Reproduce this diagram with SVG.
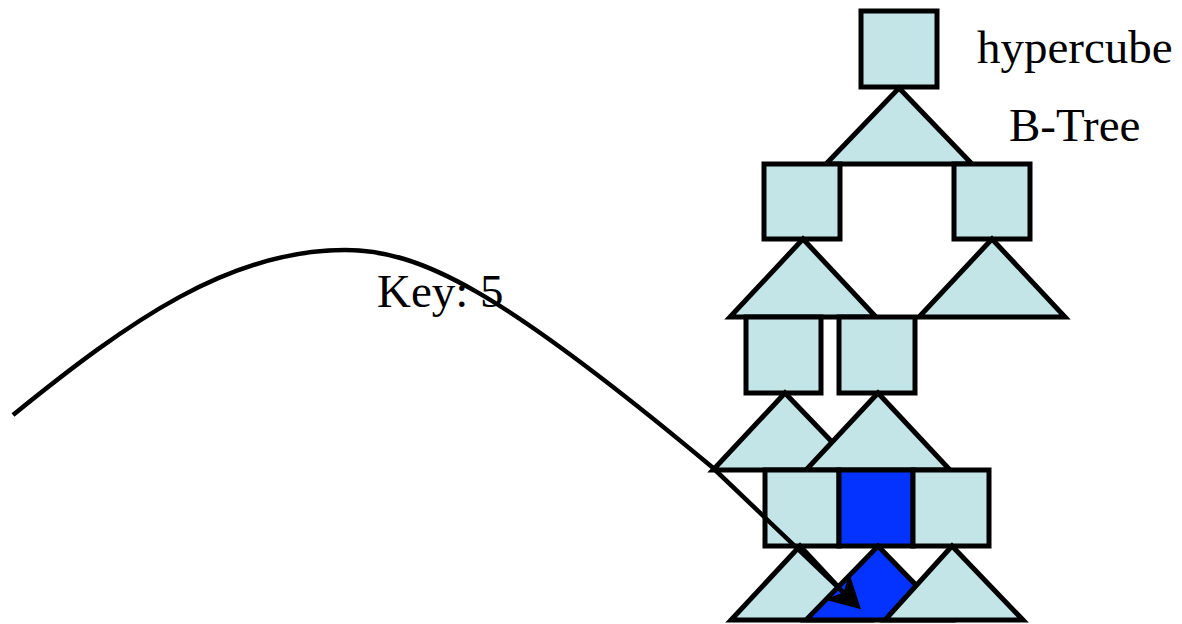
<svg xmlns="http://www.w3.org/2000/svg" width="1182" height="624" viewBox="0 0 1182 624">
  <style>
    .cell { fill: #C4E5E8; stroke: #000; stroke-width: 5; stroke-linejoin: miter; }
    .hit { fill: #0433FF; }
    .label { font-family: "Liberation Serif", "Times New Roman", serif; font-size: 47px; fill: #000; }
    .route { fill: none; stroke: #000; stroke-width: 4.5; stroke-linejoin: round; }
  </style>
  <defs>
    <marker id="head" markerUnits="userSpaceOnUse" orient="auto" refX="0" refY="0"
            markerWidth="60" markerHeight="60" viewBox="-30 -30 60 60" overflow="visible">
      <path d="M22,0 L-11,-18 L-2,0 L-11,18 Z" fill="#000"/>
    </marker>
  </defs>

  <rect width="1182" height="624" fill="#fff"/>

  <!-- level 0: hypercube root -->
  <g id="root">
    <rect class="cell" x="861" y="11" width="76" height="76"/>
    <polygon class="cell" points="899,88 972,164 826,164"/>
  </g>

  <!-- level 1 -->
  <g id="l1-left">
    <rect class="cell" x="764" y="164" width="76" height="75"/>
    <polygon class="cell" points="803,239 876,317 730,317"/>
  </g>
  <g id="l1-right">
    <rect class="cell" x="954" y="164" width="76" height="75"/>
    <polygon class="cell" points="992,239 1065,317 919,317"/>
  </g>

  <!-- level 2 -->
  <g id="l2-left">
    <rect class="cell" x="746" y="317" width="75" height="76"/>
    <polygon class="cell" points="785,393 859,470 713,470"/>
  </g>
  <g id="l2-right">
    <rect class="cell" x="839" y="317" width="76" height="76"/>
    <polygon class="cell" points="878,393 950,470 806,470"/>
  </g>

  <!-- level 3 -->
  <g id="l3-left">
    <rect class="cell" x="765" y="470" width="74" height="76"/>
    <polygon class="cell" points="800,546 869,620 731,620"/>
  </g>
  <g id="l3-mid">
    <rect class="cell hit" x="839" y="470" width="74" height="76"/>
    <polygon class="cell hit" points="878,546 950,620 806,620"/>
  </g>
  <g id="l3-right">
    <rect class="cell" x="913" y="470" width="76" height="76"/>
    <polygon class="cell" points="952,546 1023,620 885,620"/>
  </g>

  <!-- labels -->
  <g id="labels">
    <text class="label" x="977" y="63">hypercube</text>
    <text class="label" x="1009" y="141">B-Tree</text>
    <text class="label" x="377" y="307">Key: 5</text>
  </g>

  <!-- lookup route -->
  <g id="connectors">
    <path class="route" marker-end="url(#head)"
          d="M13,415 C130,320 230,250 345,250 C420,250 500,290 712,467 L845,594"/>
  </g>
</svg>
